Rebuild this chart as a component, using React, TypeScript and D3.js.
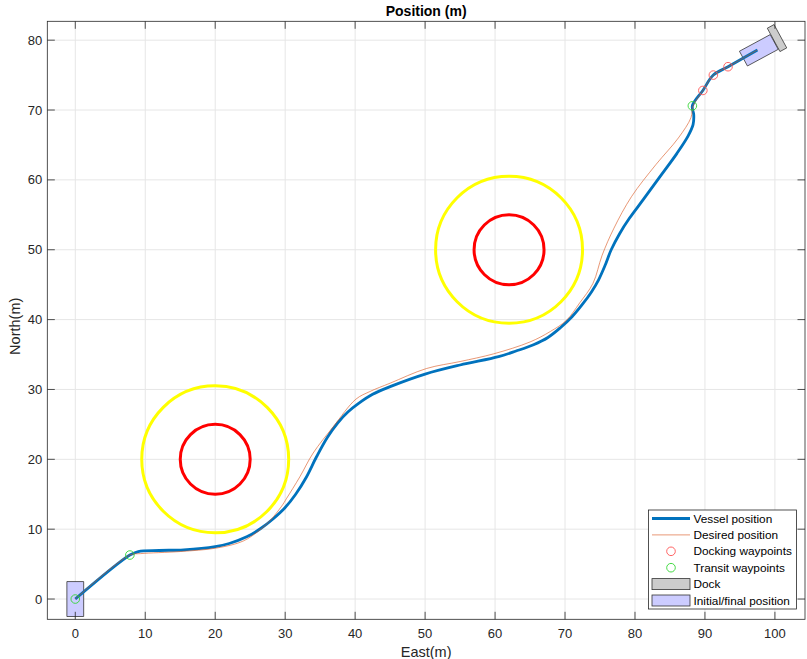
import React from 'react';
import * as d3 from 'd3';

// Vessel (measured) track, East / North in metres
const vesselEast = [0, 7.8, 9, 12, 15.5, 20, 22, 24.5, 26.5, 28.3, 30, 31.5, 33, 34.5, 36, 37.5, 39, 40.5, 42.5, 45, 50, 55, 60.5, 63, 65.5, 67.5, 69.3, 71, 72.5, 73.8, 74.8, 75.7, 76.6, 77.8, 79.2, 81.2, 83.6, 86, 87.6, 88.3, 88.4, 88.2, 89.7, 91.2, 93.3, 97.5];
const vesselNorth = [0, 6.3, 6.8, 6.95, 7.05, 7.5, 7.95, 8.9, 10.1, 11.5, 13.1, 15, 17.4, 20.4, 23.1, 25.2, 26.8, 28, 29.3, 30.4, 32.2, 33.5, 34.7, 35.5, 36.4, 37.4, 38.8, 40.4, 42.2, 44, 45.7, 47.7, 50, 52.3, 54.5, 57.2, 60.5, 63.8, 66.3, 67.9, 69.3, 70.6, 72.8, 75, 76.2, 78.6];

// Desired (reference) track
const desiredEast = [0, 7.8, 9.3, 15, 20.2, 24, 26.4, 27.9, 29.5, 30.2, 32.1, 34, 36.9, 40.1, 42.1, 45, 50.2, 55, 59.8, 65, 67.9, 70.2, 72.1, 74, 75.3, 77, 79.5, 83, 86.2, 88, 88.3, 89.7, 91.2, 93.3, 97.5];
const desiredNorth = [0, 6.3, 6.5, 6.8, 7.3, 8.3, 9.9, 11.3, 13.3, 14.4, 17.5, 20.9, 24.7, 28.6, 29.7, 30.9, 33, 34, 35.1, 36.8, 38.3, 39.9, 42.4, 45.2, 49.2, 53.1, 57.6, 62.2, 66, 68.9, 70.6, 72.8, 75, 76.2, 78.6];

const transitEast = [0, 7.8, 88.2];
const transitNorth = [0, 6.3, 70.6];
const dockingEast = [89.7, 91.2, 93.3];
const dockingNorth = [72.8, 75, 76.2];

// Obstacles: centre, inner (red) and outer (yellow) radius
const obstacleEast = [20, 62];
const obstacleNorth = [20, 50];
const obstacleInner = [5, 5];
const obstacleOuter = [10.5, 10.5];

// Vessel footprint (length along heading, width) and poses [east, north, heading deg]
const vesselSize = [5, 2.4];
const initialPose = [0, 0, 90];
const finalPose = [97.7, 78.55, 28.4];
// Dock: centre, heading, size along heading / across
const dockPose = [100.3, 80.3, 28.4];
const dockSize = [1.1, 3.8];

const xTicks = d3.range(0, 101, 10);
const yTicks = d3.range(0, 81, 10);

const legendLabels = ['Vessel position', 'Desired position', 'Docking waypoints', 'Transit waypoints', 'Dock', 'Initial/final position'];

const W = 807;
const H = 659;
const FONT = '"Liberation Sans", Arial, Helvetica, sans-serif';

const x = d3.scaleLinear().domain([-4, 104.3]).range([47.3, 805]);
const y = d3.scaleLinear().domain([-2.9, 82.7]).range([619.3, 21.3]);

const BLUE = '#0072BD';
const ORANGE = '#D95319';

function rectPoints(pose: number[], size: number[]): [number, number][] {
  const a = (pose[2] * Math.PI) / 180;
  const u = [Math.cos(a), Math.sin(a)];
  const v = [-Math.sin(a), Math.cos(a)];
  const hl = size[0] / 2;
  const hw = size[1] / 2;
  const corners = [[hl, hw], [hl, -hw], [-hl, -hw], [-hl, hw]];
  return corners.map(([p, q]) => [x(pose[0] + p * u[0] + q * v[0]), y(pose[1] + p * u[1] + q * v[1])]);
}

const polyPath = (pts: [number, number][]) => 'M' + pts.map((p) => p.join(',')).join('L') + 'Z';

const App = () => {
  const [x0, x1] = x.range();
  const [y0, y1] = y.range();

  const vesselLine = d3.line<number>().x((d, i) => x(vesselEast[i])).y((d, i) => y(vesselNorth[i])).curve(d3.curveCatmullRom.alpha(0.5));
  const desiredLine = d3.line<number>().x((d, i) => x(desiredEast[i])).y((d, i) => y(desiredNorth[i])).curve(d3.curveCatmullRom.alpha(0.5));

  const lx = 648.5;
  const ly = 510;
  const lw = 148;
  const lh = 99;
  const rowH = 16.4;

  return (
    <svg width={W} height={H} style={{ position: 'absolute', left: 0, top: 0, background: '#fff' }} fontFamily={FONT}>
      <rect x={0} y={0} width={W} height={H} fill="#fff" />
      {/* grid */}
      {xTicks.map((t) => (
        <line key={'gx' + t} x1={x(t)} x2={x(t)} y1={y0} y2={y1} stroke="#e6e6e6" strokeWidth={1} />
      ))}
      {yTicks.map((t) => (
        <line key={'gy' + t} y1={y(t)} y2={y(t)} x1={x0} x2={x1} stroke="#e6e6e6" strokeWidth={1} />
      ))}

      {/* obstacles */}
      {obstacleEast.map((e, i) => (
        <g key={'ob' + i}>
          <circle cx={x(e)} cy={y(obstacleNorth[i])} r={x(obstacleOuter[i]) - x(0)} fill="none" stroke="#FFFF00" strokeWidth={3} />
          <circle cx={x(e)} cy={y(obstacleNorth[i])} r={x(obstacleInner[i]) - x(0)} fill="none" stroke="#FF0000" strokeWidth={3} />
        </g>
      ))}

      {/* dock and vessel footprints */}
      <path d={polyPath(rectPoints(dockPose, dockSize))} fill="#CCCCCC" stroke="#333" strokeWidth={0.8} />
      <path d={polyPath(rectPoints(initialPose, vesselSize))} fill="#CCCCFF" stroke="#333" strokeWidth={0.8} />
      <path d={polyPath(rectPoints(finalPose, vesselSize))} fill="#CCCCFF" stroke="#333" strokeWidth={0.8} />

      {/* tracks */}
      <path d={vesselLine(vesselEast) || ''} fill="none" stroke={BLUE} strokeWidth={2.8} strokeLinejoin="round" />
      <path d={desiredLine(desiredEast) || ''} fill="none" stroke={ORANGE} strokeOpacity={0.75} strokeWidth={0.8} />

      {/* waypoints */}
      {dockingEast.map((e, i) => (
        <circle key={'dw' + i} cx={x(e)} cy={y(dockingNorth[i])} r={4.3} fill="none" stroke="#FF5555" strokeWidth={0.9} />
      ))}
      {transitEast.map((e, i) => (
        <circle key={'tw' + i} cx={x(e)} cy={y(transitNorth[i])} r={4.3} fill="none" stroke="#33D633" strokeWidth={0.9} />
      ))}

      {/* axes box and ticks */}
      <rect x={x0} y={y1} width={x1 - x0} height={y0 - y1} fill="none" stroke="#262626" strokeWidth={0.8} />
      {xTicks.map((t) => (
        <g key={'xt' + t}>
          <line x1={x(t)} x2={x(t)} y1={y0} y2={y0 - 7.5} stroke="#262626" strokeWidth={0.8} />
          <line x1={x(t)} x2={x(t)} y1={y1} y2={y1 + 7.5} stroke="#262626" strokeWidth={0.8} />
          <text x={x(t)} y={y0 + 19} textAnchor="middle" fontSize={13} fill="#262626">{t}</text>
        </g>
      ))}
      {yTicks.map((t) => (
        <g key={'yt' + t}>
          <line y1={y(t)} y2={y(t)} x1={x0} x2={x0 + 7.5} stroke="#262626" strokeWidth={0.8} />
          <line y1={y(t)} y2={y(t)} x1={x1} x2={x1 - 7.5} stroke="#262626" strokeWidth={0.8} />
          <text x={x0 - 5} y={y(t)} dy="0.35em" textAnchor="end" fontSize={13} fill="#262626">{t}</text>
        </g>
      ))}

      {/* labels */}
      <text x={(x0 + x1) / 2} y={16} textAnchor="middle" fontSize={14} fontWeight="bold" fill="#000">Position (m)</text>
      <text x={(x0 + x1) / 2} y={657} textAnchor="middle" fontSize={14.5} fill="#262626">East(m)</text>
      <text transform={`translate(20,${(y0 + y1) / 2 + 6}) rotate(-90)`} textAnchor="middle" fontSize={14.5} fill="#262626">North(m)</text>

      {/* legend */}
      <g transform={`translate(${lx},${ly})`}>
        <rect x={0} y={0} width={lw} height={lh} fill="#fff" stroke="#262626" strokeWidth={0.8} />
        {legendLabels.map((lab, i) => {
          const cy = 8.5 + i * rowH;
          let sym: React.ReactNode = null;
          if (i === 0) sym = <line x1={3.5} x2={41.5} y1={cy} y2={cy} stroke={BLUE} strokeWidth={2.8} />;
          if (i === 1) sym = <line x1={3.5} x2={41.5} y1={cy} y2={cy} stroke={ORANGE} strokeOpacity={0.75} strokeWidth={0.8} />;
          if (i === 2) sym = <circle cx={22.5} cy={cy} r={4.3} fill="none" stroke="#FF5555" strokeWidth={0.9} />;
          if (i === 3) sym = <circle cx={22.5} cy={cy} r={4.3} fill="none" stroke="#33D633" strokeWidth={0.9} />;
          if (i === 4) sym = <rect x={3.5} y={cy - 5.5} width={38} height={11} fill="#CCCCCC" stroke="#333" strokeWidth={0.8} />;
          if (i === 5) sym = <rect x={3.5} y={cy - 5.5} width={38} height={11} fill="#CCCCFF" stroke="#333" strokeWidth={0.8} />;
          return (
            <g key={lab}>
              {sym}
              <text x={45} y={cy} dy="0.35em" fontSize={11.8} fill="#000">{lab}</text>
            </g>
          );
        })}
      </g>
    </svg>
  );
};

export default App;
